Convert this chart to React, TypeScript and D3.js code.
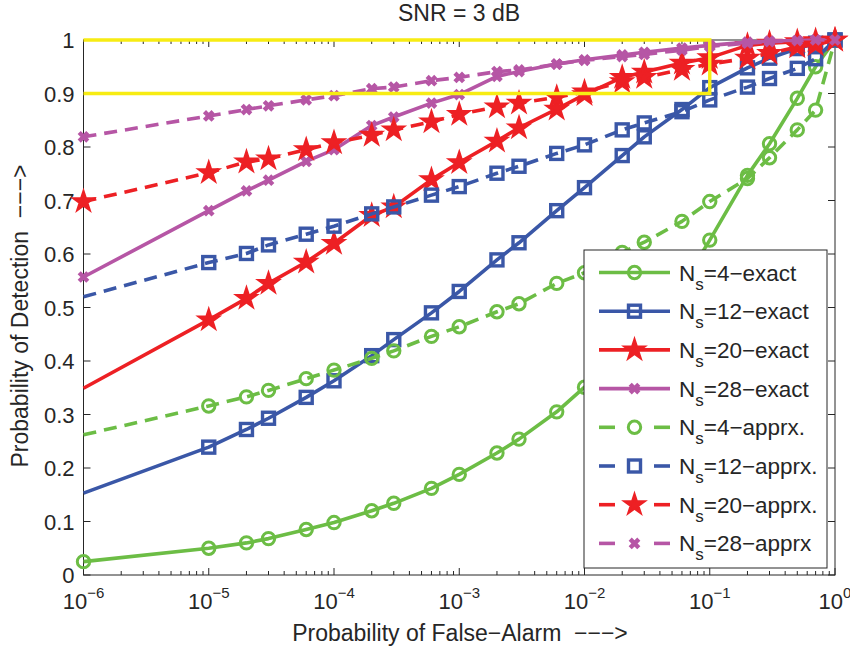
import React from "react";
import * as d3 from "d3";

const pfa = [1e-6, 1e-5, 2e-5, 3e-5, 6e-5, 1e-4, 2e-4, 3e-4, 6e-4, 1e-3, 2e-3, 3e-3, 6e-3, 1e-2, 2e-2, 3e-2, 6e-2, 1e-1, 2e-1, 3e-1, 5e-1, 7e-1, 1];

const ns4Exact = [0.025, 0.05, 0.06, 0.068, 0.085, 0.098, 0.12, 0.134, 0.162, 0.188, 0.228, 0.254, 0.305, 0.351, 0.42, 0.46, 0.54, 0.626, 0.747, 0.806, 0.891, 0.95, 1.0];
const ns12Exact = [0.153, 0.239, 0.272, 0.293, 0.332, 0.363, 0.41, 0.44, 0.49, 0.53, 0.589, 0.621, 0.681, 0.724, 0.784, 0.819, 0.87, 0.911, 0.948, 0.966, 0.984, 0.994, 1.0];
const ns20Exact = [0.349, 0.477, 0.517, 0.545, 0.585, 0.62, 0.672, 0.688, 0.739, 0.771, 0.811, 0.836, 0.871, 0.898, 0.93, 0.94, 0.957, 0.967, 0.99, 0.994, 0.997, 0.999, 1.0];
const ns28Exact = [0.557, 0.681, 0.718, 0.738, 0.773, 0.795, 0.84, 0.856, 0.882, 0.898, 0.932, 0.941, 0.955, 0.963, 0.972, 0.977, 0.985, 0.99, 0.996, 0.998, 0.999, 1.0, 1.0];
const ns4Apprx = [0.262, 0.316, 0.333, 0.345, 0.367, 0.383, 0.405, 0.419, 0.446, 0.464, 0.492, 0.507, 0.545, 0.565, 0.603, 0.622, 0.661, 0.698, 0.741, 0.78, 0.832, 0.869, 1.0];
const ns12Apprx = [0.52, 0.584, 0.601, 0.617, 0.637, 0.652, 0.675, 0.688, 0.71, 0.726, 0.751, 0.764, 0.788, 0.804, 0.832, 0.845, 0.866, 0.888, 0.912, 0.928, 0.947, 0.965, 1.0];
const ns20Apprx = [0.698, 0.752, 0.772, 0.778, 0.795, 0.808, 0.822, 0.832, 0.847, 0.861, 0.875, 0.882, 0.893, 0.903, 0.922, 0.93, 0.945, 0.955, 0.966, 0.975, 0.987, 0.991, 1.0];
const ns28Apprx = [0.819, 0.858, 0.87, 0.877, 0.888, 0.896, 0.909, 0.912, 0.924, 0.93, 0.941, 0.944, 0.955, 0.962, 0.969, 0.973, 0.981, 0.988, 0.994, 0.997, 0.999, 1.0, 1.0];

const legendNs = ["4", "12", "20", "28", "4", "12", "20", "28"];
const legendSuffix = ["exact", "exact", "exact", "exact", "apprx.", "apprx.", "apprx.", "apprx"];

const yTicks = [0, 0.1, 0.2, 0.3, 0.4, 0.5, 0.6, 0.7, 0.8, 0.9, 1];
const yTickLabels = ["0", "0.1", "0.2", "0.3", "0.4", "0.5", "0.6", "0.7", "0.8", "0.9", "1"];
const xExponents = [-6, -5, -4, -3, -2, -1, 0];

const GREEN = "#6cbd45";
const BLUE = "#3a57a7";
const RED = "#ed2024";
const PURPLE = "#b656a5";
const YELLOW = "#f7ec13";

type Series = { values: number[]; color: string; marker: string; dashed: boolean; firstMarker: boolean };

const series: Series[] = [
  { values: ns4Exact, color: GREEN, marker: "circle", dashed: false, firstMarker: true },
  { values: ns12Exact, color: BLUE, marker: "square", dashed: false, firstMarker: false },
  { values: ns20Exact, color: RED, marker: "star", dashed: false, firstMarker: false },
  { values: ns28Exact, color: PURPLE, marker: "x", dashed: false, firstMarker: true },
  { values: ns4Apprx, color: GREEN, marker: "circle", dashed: true, firstMarker: false },
  { values: ns12Apprx, color: BLUE, marker: "square", dashed: true, firstMarker: false },
  { values: ns20Apprx, color: RED, marker: "star", dashed: true, firstMarker: true },
  { values: ns28Apprx, color: PURPLE, marker: "x", dashed: true, firstMarker: true },
];

const W = 850, H = 648;
const L = 83.5, R = 835, T = 40, B = 575;
const FONT = "'Liberation Sans', Arial, Helvetica, sans-serif";
const TXT = "#262626";
const LW = 3.6;
const NB = "\u00A0";

const x = d3.scaleLog().domain([1e-6, 1]).range([L, R]);
const y = d3.scaleLinear().domain([0, 1]).range([B, T]);

const starPath = d3.symbol(d3.symbolStar, 125)()!;

function Marker({ kind, cx, cy, color }: { kind: string; cx: number; cy: number; color: string }) {
  if (kind === "circle") {
    return <circle cx={cx} cy={cy} r={6.2} fill="none" stroke={color} strokeWidth={3} />;
  }
  if (kind === "square") {
    return <rect x={cx - 6} y={cy - 6} width={12} height={12} fill="none" stroke={color} strokeWidth={3.4} />;
  }
  if (kind === "star") {
    return <path d={starPath} transform={`translate(${cx},${cy})`} fill={color} stroke={color} strokeWidth={2.2} strokeLinejoin="miter" />;
  }
  const s = 4.3;
  return (
    <path d={`M${cx - s},${cy - s}L${cx + s},${cy + s}M${cx - s},${cy + s}L${cx + s},${cy - s}`} stroke={color} strokeWidth={4.4} fill="none" />
  );
}

export default function App() {
  const line = d3.line<number>().x((_, i) => x(pfa[i])).y((v) => y(v));

  const majorX = xExponents.map((e) => Math.pow(10, e));
  const minorX: number[] = [];
  for (let e = -6; e < 0; e++) for (let m = 2; m <= 9; m++) minorX.push(m * Math.pow(10, e));

  const legX = 584, legY = 250, legW = 243, legH = 318;
  const rowY0 = 272.5, rowDy = 38.7;

  return (
    <svg width={W} height={H} style={{ position: "absolute", left: 0, top: 0, background: "#fff" }} fontFamily={FONT}>
      <rect x={0} y={0} width={W} height={H} fill="#fff" />
      <rect x={L} y={T} width={R - L} height={B - T} fill="none" stroke="#262626" strokeWidth={1} />
      {majorX.map((v, i) => (
        <g key={"mx" + i}>
          <line x1={x(v)} x2={x(v)} y1={B} y2={B - 7} stroke="#262626" />
          <line x1={x(v)} x2={x(v)} y1={T} y2={T + 7} stroke="#262626" />
        </g>
      ))}
      {minorX.map((v, i) => (
        <g key={"nx" + i}>
          <line x1={x(v)} x2={x(v)} y1={B} y2={B - 4} stroke="#262626" />
          <line x1={x(v)} x2={x(v)} y1={T} y2={T + 4} stroke="#262626" />
        </g>
      ))}
      {yTicks.map((v, i) => (
        <g key={"yt" + i}>
          <line x1={L} x2={L + 7} y1={y(v)} y2={y(v)} stroke="#262626" />
          <line x1={R} x2={R - 7} y1={y(v)} y2={y(v)} stroke="#262626" />
          <text x={L - 9} y={y(v) + 8} textAnchor="end" fontSize={22} fill={TXT}>{yTickLabels[i]}</text>
        </g>
      ))}
      {xExponents.map((e, i) => (
        <text key={"xl" + i} x={x(Math.pow(10, e))} y={609} textAnchor="middle" fill={TXT} fontSize={22}>
          10<tspan dy={-11} fontSize={15}>{e < 0 ? "\u2212" + Math.abs(e) : String(e)}</tspan>
        </text>
      ))}
      {series.map((s, si) => (
        <g key={"s" + si}>
          <path d={line(s.values)!} fill="none" stroke={s.color} strokeWidth={LW} strokeDasharray={s.dashed ? "13,8" : undefined} strokeLinejoin="round" />
          {s.values.map((v, i) =>
            i === 0 && !s.firstMarker ? null : <Marker key={i} kind={s.marker} cx={x(pfa[i])} cy={y(v)} color={s.color} />
          )}
        </g>
      ))}
      <path d={`M${x(1e-6)},${y(1)}L${x(1e-1)},${y(1)}L${x(1e-1)},${y(0.9)}L${x(1e-6)},${y(0.9)}`} fill="none" stroke={YELLOW} strokeWidth={3.4} />
      <text x={459} y={21} textAnchor="middle" fontSize={23} fill={TXT}>SNR = 3 dB</text>
      <text x={460} y={641} textAnchor="middle" fontSize={23} fill={TXT}>{`Probability of False\u2212Alarm${NB}${NB}\u2212\u2212\u2212>`}</text>
      <text transform={`translate(28,316) rotate(-90)`} textAnchor="middle" fontSize={23} fill={TXT}>{`Probability of Detection${NB}${NB}\u2212\u2212\u2212>`}</text>
      <rect x={legX} y={legY} width={legW} height={legH} fill="#fff" stroke="#262626" strokeWidth={1} />
      {series.map((s, i) => {
        const cy = rowY0 + i * rowDy;
        return (
          <g key={"lg" + i}>
            {s.dashed ? (
              <>
                <line x1={599} x2={615} y1={cy} y2={cy} stroke={s.color} strokeWidth={LW} />
                <line x1={654} x2={670} y1={cy} y2={cy} stroke={s.color} strokeWidth={LW} />
              </>
            ) : (
              <line x1={599} x2={670} y1={cy} y2={cy} stroke={s.color} strokeWidth={LW} />
            )}
            <Marker kind={s.marker} cx={634.5} cy={cy} color={s.color} />
            <text x={679} y={cy + 8} fontSize={22.5} fill={TXT}>
              N<tspan dy={9} fontSize={17}>s</tspan><tspan dy={-9}>={legendNs[i]}{"\u2212"}{legendSuffix[i]}</tspan>
            </text>
          </g>
        );
      })}
    </svg>
  );
}
